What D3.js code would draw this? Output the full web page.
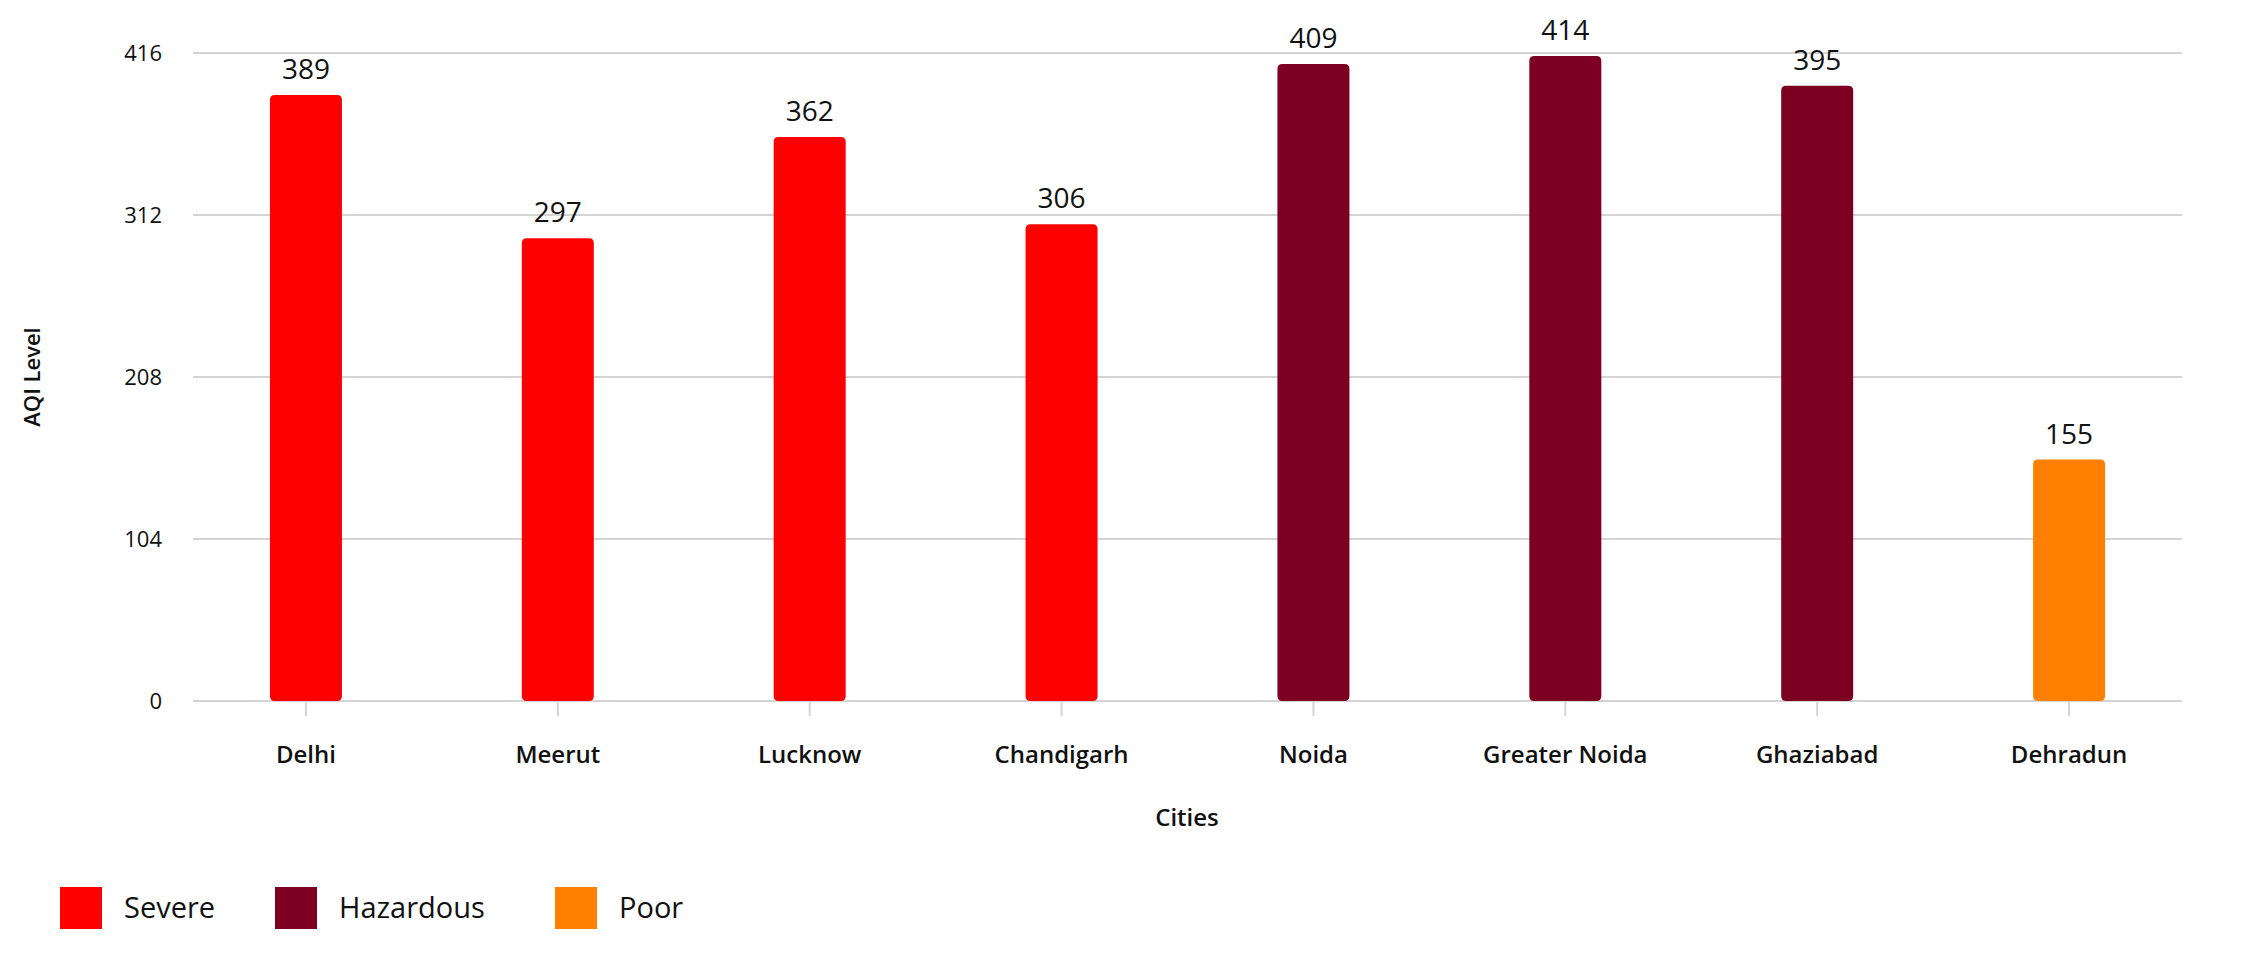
<!DOCTYPE html><html><head><meta charset="utf-8"><script src="https://cdn.jsdelivr.net/npm/d3@7"></script>
<style>body{margin:0;background:#fff}text{font-family:"Open Sans",sans-serif;fill:#111}</style></head><body><svg id="c" width="2244" height="954"></svg>
<script>
const cities=["Delhi","Meerut","Lucknow","Chandigarh","Noida","Greater Noida","Ghaziabad","Dehradun"];
const aqi=[389,297,362,306,409,414,395,155];
const levels=["Severe","Severe","Severe","Severe","Hazardous","Hazardous","Hazardous","Poor"];
const legendNames=["Severe","Hazardous","Poor"];
const legendColors=["#ff0000","#7d0022","#ff8000"];
const yTicks=[0,104,208,312,416];
const svg=d3.select("#c");
const color=d3.scaleOrdinal(legendNames,legendColors);
const x=d3.scaleBand(cities,[180,2195]);
const y=d3.scaleLinear([0,416],[701,53]);
const gl=193,gr=2182;
svg.append("g").selectAll("line").data(yTicks).join("line").attr("x1",gl).attr("x2",gr).attr("y1",d=>y(d)).attr("y2",d=>y(d)).attr("stroke","#d4d4d4").attr("stroke-width",2);
svg.append("g").selectAll("text").data(yTicks).join("text").attr("x",162).attr("y",d=>y(d)+8).attr("text-anchor","end").attr("font-size",22).text(d=>d);
svg.append("g").selectAll("line").data(cities).join("line").attr("x1",d=>x(d)+x.bandwidth()/2).attr("x2",d=>x(d)+x.bandwidth()/2).attr("y1",701).attr("y2",716).attr("stroke","#d4d4d4").attr("stroke-width",2);
const bw=72,r=5;
svg.append("g").selectAll("path").data(cities).join("path").attr("fill",(d,i)=>color(levels[i])).attr("d",(d,i)=>{const cx=x(d)+x.bandwidth()/2,x0=cx-bw/2,x1=cx+bw/2,t=y(aqi[i]),b=y(0);return `M${x0},${b-r}V${t+r}Q${x0},${t} ${x0+r},${t}H${x1-r}Q${x1},${t} ${x1},${t+r}V${b-r}Q${x1},${b} ${x1-r},${b}H${x0+r}Q${x0},${b} ${x0},${b-r}Z`;});
svg.append("g").selectAll("text").data(cities).join("text").attr("x",d=>x(d)+x.bandwidth()/2).attr("y",(d,i)=>y(aqi[i])-16).attr("text-anchor","middle").attr("font-size",28).text((d,i)=>aqi[i]);
svg.append("g").selectAll("text").data(cities).join("text").attr("x",d=>x(d)+x.bandwidth()/2).attr("y",763).attr("text-anchor","middle").attr("font-size",24).attr("font-weight",600).text(d=>d);
svg.append("text").attr("x",1187).attr("y",826).attr("text-anchor","middle").attr("font-size",24).attr("font-weight",600).text("Cities");
svg.append("text").attr("transform","translate(40,377) rotate(-90)").attr("text-anchor","middle").attr("font-size",22).attr("font-weight",600).text("AQI Level");
const lx=[60,275,555];
const lg=svg.append("g").selectAll("g").data(legendNames).join("g").attr("transform",(d,i)=>`translate(${lx[i]},887)`);
lg.append("rect").attr("width",42).attr("height",42).attr("fill",d=>color(d));
lg.append("text").attr("x",64).attr("y",31).attr("font-size",29).text(d=>d);
</script></body></html>
